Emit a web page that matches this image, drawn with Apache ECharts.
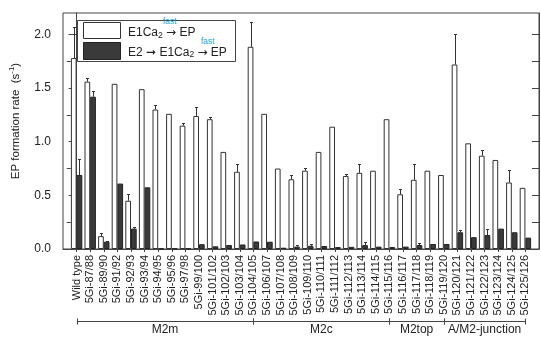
<!DOCTYPE html>
<html><head><meta charset="utf-8">
<script src="https://cdn.jsdelivr.net/npm/echarts@6/dist/echarts.min.js"></script>
<style>html,body{margin:0;padding:0;background:#fff}#c{width:541px;height:337px}</style>
</head><body><div id="c"></div>
<script>
const categories = ['Wild type','5Gi-87/88','5Gi-89/90','5Gi-91/92','5Gi-92/93','5Gi-93/94','5Gi-94/95','5Gi-95/96','5Gi-97/98','5Gi-99/100','5Gi-101/102','5Gi-102/103','5Gi-103/104','5Gi-104/105','5Gi-106/107','5Gi-107/108','5Gi-108/109','5Gi-109/110','5Gi-110/111','5Gi-111/112','5Gi-112/113','5Gi-113/114','5Gi-114/115','5Gi-115/116','5Gi-116/117','5Gi-117/118','5Gi-118/119','5Gi-119/120','5Gi-120/121','5Gi-121/122','5Gi-122/123','5Gi-123/124','5Gi-124/125','5Gi-125/126'];
const fastRate = [1.78,1.56,0.12,1.54,0.45,1.49,1.30,1.26,1.15,1.24,1.21,0.905,0.72,1.885,1.26,0.75,0.65,0.73,0.905,1.14,0.68,0.71,0.73,1.21,0.51,0.645,0.73,0.69,1.72,0.985,0.87,0.83,0.62,0.57];
const fastRateSD = [0.29,0.03,0.03,0,0.066,0,0.047,0,0.026,0.085,0.022,0,0.073,0.23,0,0,0.037,0.023,0,0,0.023,0.08,0,0,0.05,0.148,0,0,0.28,0,0.054,0,0.114,0];
const e2Rate = [0.69,1.42,0.068,0.61,0.19,0.575,0.004,0.004,0.004,0.045,0.025,0.037,0.042,0.07,0.068,0.012,0.022,0.03,0.028,0.018,0.02,0.036,0.022,0.018,0.022,0.037,0.047,0.047,0.156,0.11,0.13,0.19,0.156,0.106];
const e2RateSD = [0.15,0.054,0.007,0,0.015,0,0,0,0,0,0,0,0,0,0,0,0.013,0.014,0,0,0,0.029,0,0,0,0.019,0,0,0.025,0,0.057,0,0,0];
const yLabelTicks = [0,0.5,1,1.5,2];
const yMinorTicks = [0.25,0.75,1.25,1.75];
const yRightTicks = [0.25,0.5,0.75,1,1.25,1.5,1.75,2];
const groupNames = ['M2m','M2c','M2top','A/M2-junction'];
const groupStart = [0,13,23,27];
const groupEnd = [13,23,27,33];

const FONT = '"Liberation Sans", Arial, Helvetica, sans-serif';
const TXT = '#222';
const AX = '#444';
const BW = 5.7;
const idx = categories.map((_, i) => i);
const GRID = { left: 57, right: 2, top: 13, bottom: 88 };

function errSeries(vals, sds, side) {
  return {
    type: 'custom', clip: false, silent: true, z: 5,
    data: vals.map((v, i) => [i, v, v + sds[i]]).filter((d, i) => sds[i] > 0),
    encode: { x: 0, y: [1, 2] },
    renderItem(params, api) {
      const x = api.value(0);
      const p0 = api.coord([x, api.value(1)]);
      const p1 = api.coord([x, api.value(2)]);
      const cx = Math.round(p0[0] + side * BW / 2) + 0.5;
      const ty = Math.round(p1[1]) + 0.5;
      return { type: 'group', children: [
        { type: 'line', shape: { x1: cx, y1: p0[1], x2: cx, y2: ty }, style: { stroke: '#333', lineWidth: 1 } },
        { type: 'line', shape: { x1: cx - 1.5, y1: ty, x2: cx + 1.5, y2: ty }, style: { stroke: '#333', lineWidth: 1 } }
      ] };
    }
  };
}

const chart = echarts.init(document.getElementById('c'), null, { renderer: 'canvas' });
chart.setOption({
  animation: false,
  backgroundColor: '#fff',
  grid: [
    Object.assign({ show: true, borderColor: AX, borderWidth: 1, backgroundColor: 'transparent' }, GRID),
    Object.assign({ show: false }, GRID)
  ],
  xAxis: [{
    type: 'value', min: -1, max: 34, gridIndex: 0,
    splitLine: { show: false },
    axisLine: { show: true, lineStyle: { color: AX } },
    axisTick: { show: true, customValues: idx, length: 3, lineStyle: { color: AX } },
    axisLabel: { customValues: idx, rotate: 90, margin: 6, fontSize: 11, fontFamily: FONT, color: TXT,
      formatter: v => categories[v] || '' }
  }, {
    type: 'value', min: -1, max: 34, gridIndex: 1, show: false
  }],
  yAxis: [{
    type: 'value', min: 0, max: 2.2, position: 'left', gridIndex: 0,
    splitLine: { show: false },
    axisLine: { show: true, lineStyle: { color: AX } },
    axisTick: { show: true, customValues: yLabelTicks, length: 8, lineStyle: { color: AX } },
    axisLabel: { customValues: yLabelTicks, margin: 12, fontSize: 12, fontFamily: FONT, color: TXT, formatter: v => v.toFixed(1) },
    name: 'EP formation rate  (s{sup|-1})', nameLocation: 'middle', nameGap: 40,
    nameTextStyle: { fontSize: 11.5, fontFamily: FONT, color: TXT, padding: [0, 0, 0, 20],
      rich: { sup: { fontSize: 8, fontFamily: FONT, color: TXT, padding: [0, 0, 7, 0] } } }
  }, {
    type: 'value', min: 0, max: 2.2, position: 'right', gridIndex: 0,
    splitLine: { show: false },
    axisLine: { show: true, lineStyle: { color: AX } },
    axisTick: { show: true, inside: true, customValues: yRightTicks, length: 7, lineStyle: { color: AX } },
    axisLabel: { show: false }
  }, {
    type: 'value', min: 0, max: 2.2, position: 'left', gridIndex: 1,
    splitLine: { show: false },
    axisLine: { show: false },
    axisTick: { show: true, customValues: yMinorTicks, length: 4, lineStyle: { color: AX } },
    axisLabel: { show: false }
  }],
  series: [
    { type: 'bar', name: 'E1Ca2 fast EP', barWidth: BW, barGap: '0%',
      data: fastRate.map((v, i) => [i, v]),
      itemStyle: { color: '#fff', borderColor: '#333', borderWidth: 1 } },
    { type: 'bar', name: 'E2 to E1Ca2 fast EP', barWidth: BW, barGap: '0%',
      data: e2Rate.map((v, i) => [i, v]),
      itemStyle: { color: '#3a3a3a', borderColor: '#222', borderWidth: 1 } },
    errSeries(fastRate, fastRateSD, -1),
    errSeries(e2Rate, e2RateSD, 1),
    {
      type: 'custom', clip: false, silent: true,
      data: groupNames.map((n, i) => [groupStart[i], groupEnd[i], 0]),
      encode: { x: [0, 1], y: 2 },
      renderItem(params, api) {
        const a = api.coord([api.value(0), 0]);
        const b = api.coord([api.value(1), 0]);
        const y = Math.round(a[1] + 72) + 0.5;
        const xa = Math.round(a[0]) + 0.5, xb = Math.round(b[0]) + 0.5;
        const st = { stroke: AX, lineWidth: 1 };
        return { type: 'group', children: [
          { type: 'line', shape: { x1: xa, y1: y, x2: xb, y2: y }, style: st },
          { type: 'line', shape: { x1: xa, y1: y - 3, x2: xa, y2: y + 3 }, style: st },
          { type: 'line', shape: { x1: xb, y1: y - 3, x2: xb, y2: y + 3 }, style: st },
          { type: 'text', style: { text: groupNames[params.dataIndex], x: (a[0] + b[0]) / 2, y: y + 8.5,
            align: 'center', verticalAlign: 'middle', fontSize: 12, fontFamily: FONT, fill: TXT } }
        ] };
      }
    }
  ],
  graphic: [
    { type: 'rect', z: 100, shape: { x: 77.5, y: 20.5, width: 158, height: 41 }, style: { fill: '#fff', stroke: AX, lineWidth: 1 } },
    { type: 'rect', z: 101, shape: { x: 83.5, y: 22.5, width: 37, height: 16 }, style: { fill: '#fff', stroke: '#333', lineWidth: 1 } },
    { type: 'rect', z: 101, shape: { x: 83.5, y: 42.5, width: 37, height: 17 }, style: { fill: '#3a3a3a', stroke: '#222', lineWidth: 1 } },
    { type: 'text', z: 101, x: 128, y: 33, style: { text: 'E1Ca{sub|2} {arr|→} EP', fontSize: 12, fontFamily: FONT, fill: TXT, verticalAlign: 'middle',
      rich: { sub: { fontSize: 8.5, fontFamily: FONT, fill: TXT, padding: [5, 0, 0, 0] }, arr: { fontSize: 12, fontFamily: '"DejaVu Sans", sans-serif', fill: TXT } } } },
    { type: 'text', z: 101, x: 163, y: 21.5, style: { text: 'fast', fontSize: 8.5, fontFamily: FONT, fill: '#1fa3dc', verticalAlign: 'middle' } },
    { type: 'text', z: 101, x: 128, y: 52.5, style: { text: 'E2 {bar|➞} E1Ca{sub|2} {arr|→} EP', fontSize: 12, fontFamily: FONT, fill: TXT, verticalAlign: 'middle',
      rich: { sub: { fontSize: 8.5, fontFamily: FONT, fill: TXT, padding: [5, 0, 0, 0] }, arr: { fontSize: 12, fontFamily: '"DejaVu Sans", sans-serif', fill: TXT },
        bar: { fontSize: 12, fontFamily: '"DejaVu Sans", sans-serif', fill: TXT } } } },
    { type: 'text', z: 101, x: 201, y: 41.5, style: { text: 'fast', fontSize: 8.5, fontFamily: FONT, fill: '#1fa3dc', verticalAlign: 'middle' } }
  ]
});
</script></body></html>
